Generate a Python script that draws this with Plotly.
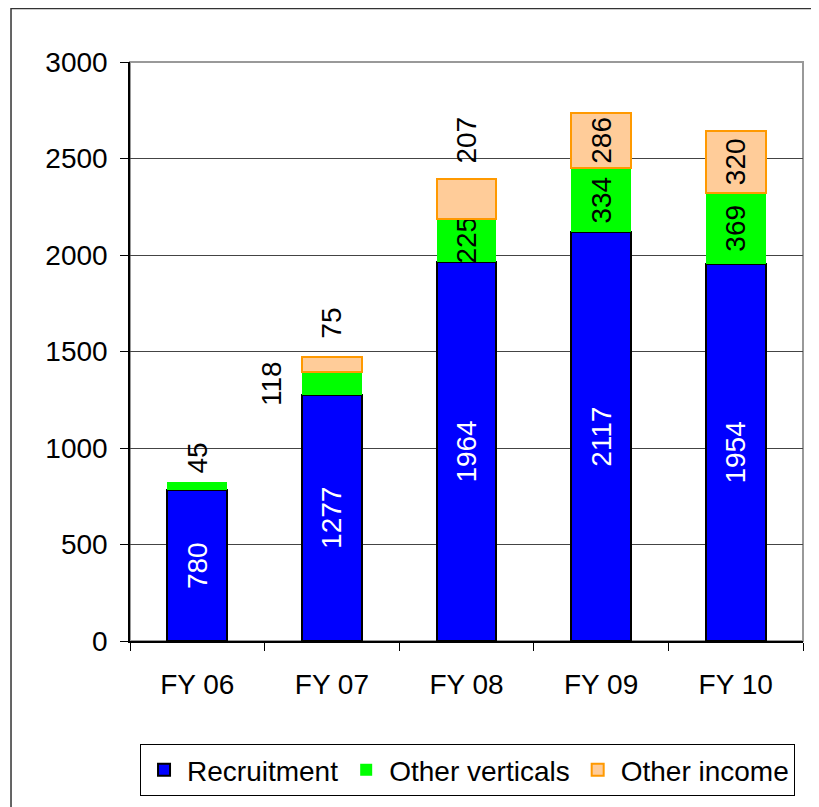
import plotly.graph_objects as go

categories = ["FY 06", "FY 07", "FY 08", "FY 09", "FY 10"]
recruitment = [780, 1277, 1964, 2117, 1954]
other_verticals = [45, 118, 225, 334, 369]
other_income = [0, 75, 207, 286, 320]

# labels that sit outside their bar segment: (series, index) -> (xshift, yshift)
outside_labels = {
    ("ov", 0): (0, 22),
    ("ov", 1): (-61, 0),
    ("oi", 1): (0, 33),
    ("oi", 2): (0, 29),
}

FONT = "Liberation Sans, Arial, sans-serif"
FS = 28

def inside_text(vals, key):
    out = []
    for i, v in enumerate(vals):
        if v == 0 or (key, i) in outside_labels:
            out.append("")
        else:
            out.append(str(v))
    return out

fig = go.Figure()
fig.add_trace(go.Bar(
    name="Recruitment", x=categories, y=recruitment,
    marker=dict(color="#0000FF", line=dict(color="#000000", width=2)),
    text=inside_text(recruitment, "rec"), textposition="inside",
    insidetextanchor="middle", textangle=-90, constraintext="none",
    textfont=dict(color="white", size=FS, family=FONT),
))
fig.add_trace(go.Bar(
    name="Other verticals", x=categories, y=other_verticals,
    marker=dict(color="#00FF00", line=dict(color="#00FF00", width=0)),
    text=inside_text(other_verticals, "ov"), textposition="inside",
    insidetextanchor="middle", textangle=-90, constraintext="none",
    textfont=dict(color="black", size=FS, family=FONT),
))
fig.add_trace(go.Bar(
    name="Other income", x=categories, y=[v if v else None for v in other_income],
    marker=dict(color="#FFCC99", line=dict(color="#FF9900", width=2)),
    text=inside_text(other_income, "oi"), textposition="inside",
    insidetextanchor="middle", textangle=-90, constraintext="none",
    textfont=dict(color="black", size=FS, family=FONT),
))

annotations = []
for (key, i), (dx, dy) in outside_labels.items():
    if key == "ov":
        val = other_verticals[i]
        if dx == 0:
            ypos = recruitment[i] + other_verticals[i] + other_income[i]
        else:
            ypos = recruitment[i] + other_verticals[i] / 2
    else:
        val = other_income[i]
        ypos = recruitment[i] + other_verticals[i] + other_income[i]
    annotations.append(dict(
        x=categories[i], y=ypos, xref="x", yref="y", text=str(val),
        showarrow=False, textangle=-90, xanchor="center",
        yanchor="bottom" if dx == 0 else "middle",
        xshift=dx, yshift=dy - (16 if dx == 0 else 0),
        font=dict(size=FS, family=FONT, color="black"),
    ))

fig.update_layout(
    width=819, height=807,
    barmode="stack", bargap=0.555,
    paper_bgcolor="white", plot_bgcolor="white",
    margin=dict(l=122, r=24, t=54, b=174, pad=0),
    font=dict(family=FONT, size=FS, color="black"),
    annotations=annotations,
    showlegend=True,
    legend=dict(
        orientation="h", x=0.0149, y=-0.178, xanchor="left", yanchor="top",
        bordercolor="black", borderwidth=1, bgcolor="white",
        font=dict(size=FS, family=FONT), traceorder="normal",
        itemclick=False, itemwidth=36,
    ),
    shapes=[
        dict(type="rect", xref="paper", yref="paper", x0=0, x1=1, y0=0, y1=1,
             line=dict(color="#999999", width=2), layer="below"),
        dict(type="rect", xref="paper", yref="paper", x0=-0.1768, x1=1.2,
             y0=1.0925, y1=-0.5, line=dict(color="#333333", width=1.5), layer="below"),
    ],
)
fig.update_xaxes(
    showline=True, linecolor="black", linewidth=1.5,
    ticks="outside", ticklen=8, tickcolor="black", tickson="boundaries",
    ticklabelstandoff=18, showgrid=False,
    tickfont=dict(size=FS, family=FONT),
)
fig.update_yaxes(
    range=[0, 3000], dtick=500, showline=True, linecolor="black", linewidth=1.5,
    ticks="outside", ticklen=8, tickcolor="black",
    showgrid=True, gridcolor="#444444", gridwidth=1, zeroline=False,
    ticklabelstandoff=7, tickfont=dict(size=FS, family=FONT),
)

fig.write_html("out.html")
